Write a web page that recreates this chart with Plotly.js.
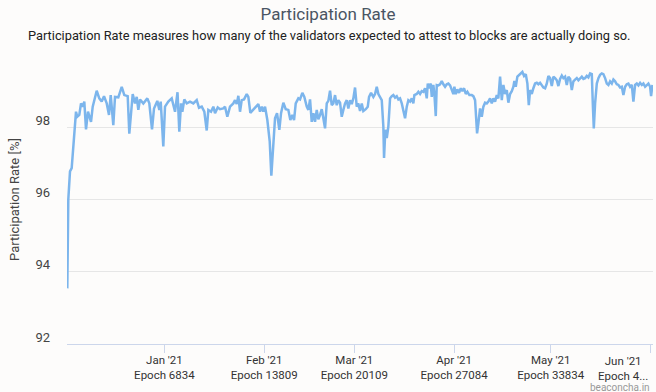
<!DOCTYPE html>
<html>
<head>
<meta charset="utf-8">
<script src="https://cdn.plot.ly/plotly-3.0.1.min.js"></script>
<style>
  html, body { margin: 0; padding: 0; background: #fdfcfb; }
  #chart { width: 656px; height: 392px; }
</style>
</head>
<body>
<div id="chart"></div>
<script>
// ---- data ----
const epochs = [46,116,235,353,654,745,885,1004,1123,1235,1353,1493,1703,1822,2101,2283,2451,2612,2801,2961,3080,3262,3381,3612,3849,4031,4268,4380,4618,4779,4898,5010,5128,5359,5639,5778,5967,6107,6338,6478,6576,6757,6876,7107,7345,7577,7750,7876,
7995,8086,8225,8393,8624,8854,9092,9253,9442,9624,9792,9904,10092,10253,10372,10560,10721,10952,11071,11232,11420,11651,11770,11889,12001,12119,12238,12399,12588,12700,12840,13049,13287,13399,13518,13637,13748,13867,14028,14195,14307,14426,14566,14706,14867,14986,15147,15314,15496,15636,15776,15895,16013,16195,
16314,16475,16614,16782,16894,17013,17132,17244,17363,17481,17593,17712,17831,17943,18062,18181,18292,18411,18530,18642,18761,18880,18991,19110,19229,19341,19460,19579,19691,19810,19929,20040,20159,20278,20390,20509,20628,20739,20907,21047,21138,21278,21438,21557,21676,21788,21907,22025,22137,22186,22277,22376,22487,22606,22725,22837,22955,23074,23186,23305,23424,23536,23655,23774,23885,24004,24123,24235,24305,
24472,24584,24703,24822,24934,25053,25172,25242,25332,25451,25521,25633,25703,25801,25871,25983,26101,26220,26332,26451,26570,26682,26801,26920,27032,27102,27199,27311,27430,27549,27661,27779,27898,28010,28150,28318,28429,28548,28618,28688,28779,28898,29017,29128,29247,29366,29478,29597,29716,29828,29946,30065,30177,30296,30415,30527,30646,30765,30876,30995,31114,31226,31296,31393,31505,31624,31743,31855,31974,32093,32205,32303,32394,32512,32624,
32743,32862,32973,33092,33211,33323,33442,33561,33673,33792,33911,34023,34141,34260,34372,34491,34610,34722,34840,34959,35071,35190,35309,35421,35539,35658,35770,35889,36008,36120,36238,36357,36469,36588,36707,36777,36847,36938,37057,37169,37287,37406,37518,37637,37756,37868,37986,38105,38217,38336,38455,38567,38685,38804,38916,39035,39154,39266,39384,39503,39615,39734,39853,39965,40083,40202,40314,40433,40552,40664,40783,40852,40944];

const participation = [93.54,96.0,96.78,96.87,98.43,98.29,98.34,98.66,98.57,98.71,97.94,98.43,98.15,98.57,99.01,98.80,98.71,98.86,98.66,98.34,98.89,98.06,98.84,98.83,99.12,98.89,98.86,97.82,98.92,98.66,98.84,98.48,98.77,98.66,98.80,98.66,97.94,98.52,98.73,98.48,98.71,97.47,98.57,98.71,98.80,98.43,98.97,97.88,
98.66,98.43,98.77,98.66,98.71,98.66,98.75,98.54,98.57,98.43,97.91,98.48,98.43,98.57,98.39,98.55,98.50,98.52,98.57,98.29,98.57,98.66,98.75,98.64,98.87,98.43,98.75,98.77,98.92,98.84,98.40,98.48,98.57,98.64,98.43,98.57,98.43,98.57,98.20,97.60,96.66,97.56,98.25,98.39,97.93,98.39,98.68,98.50,98.48,98.20,98.34,98.20,98.66,98.80,
98.77,98.95,98.84,98.57,98.48,98.77,98.15,98.39,98.15,98.48,98.22,98.34,98.50,98.25,97.97,98.66,98.73,99.01,98.61,98.66,98.89,98.61,98.75,98.68,98.29,98.48,98.66,98.75,98.52,98.75,98.64,98.80,99.10,98.57,98.66,98.45,98.66,98.45,98.50,98.57,98.84,98.95,98.84,98.92,99.12,98.92,98.84,98.75,98.02,97.15,97.93,97.70,98.02,98.80,98.86,98.89,98.82,98.86,98.77,98.80,98.66,98.43,98.25,98.57,98.75,98.71,98.80,98.66,98.89,
98.92,98.98,98.92,99.0,98.98,99.08,98.80,99.21,99.08,99.21,98.84,99.17,98.92,98.31,99.17,99.16,99.19,99.28,99.19,99.12,99.19,99.21,99.16,99.03,98.92,99.12,98.92,99.05,98.95,99.08,99.0,99.08,98.92,98.98,98.89,98.89,98.86,98.75,98.25,97.83,98.11,98.52,98.29,98.57,98.68,98.66,98.71,98.80,98.66,98.80,98.71,98.89,98.80,99.40,98.75,99.17,98.92,99.03,98.68,98.92,99.0,99.12,99.28,99.12,99.40,99.45,99.49,99.53,99.42,99.47,99.21,98.61,99.03,98.92,99.08,
99.21,99.23,99.19,99.23,99.17,99.10,99.08,99.21,99.42,99.36,99.14,99.40,99.36,99.30,99.14,99.34,99.43,99.36,99.40,99.17,99.40,99.34,99.03,99.27,99.32,99.36,99.30,99.36,99.40,99.34,99.36,99.42,99.38,99.49,99.47,98.66,97.97,98.66,99.21,99.36,99.45,99.49,99.47,99.36,99.21,99.17,99.27,99.21,99.32,99.27,99.19,99.17,99.10,99.12,98.89,99.12,99.19,99.21,99.12,99.17,98.71,99.17,99.21,99.16,99.23,99.17,99.21,99.12,99.17,99.21,99.12,98.86,99.17];

const tickEpochs = [6834, 13809, 20109, 27084, 33834, 40809];
const tickMonths = ["Jan '21", "Feb '21", "Mar '21", "Apr '21", "May '21", "Jun '21"];
const tickEpochLabels = ["Epoch 6834", "Epoch 13809", "Epoch 20109", "Epoch 27084", "Epoch 33834", "Epoch 4..."];
const yTicks = [92, 94, 96, 98, 100];
const yTickLabels = ["92", "94", "96", "98", ""];

const titleText = "Participation Rate";
const subtitleText = "Participation Rate measures how many of the validators expected to attest to blocks are actually doing so.";
const yTitleText = "Participation Rate [%]";
const creditText = "beaconcha.in";

// ---- chart ----
const FONT = "Roboto, 'Noto Sans', sans-serif";
const last = tickEpochs.length - 1;
const ticktext = tickEpochs.map((e, i) => i === last ? "" : tickMonths[i] + "<br>" + tickEpochLabels[i]);

const trace = {
  type: "scatter",
  mode: "lines",
  x: epochs,
  y: participation,
  line: { color: "#7cb5ec", width: 2.5 },
  hoverinfo: "skip"
};

const layout = {
  width: 656,
  height: 392,
  margin: { l: 67, r: 3, t: 55, b: 48 },
  paper_bgcolor: "#fdfcfb",
  plot_bgcolor: "#fdfcfb",
  showlegend: false,
  font: { family: FONT, color: "#333" },
  title: {
    text: titleText,
    font: { family: FONT, size: 17, color: "#4a5563" },
    x: 0.5, xref: "container", xanchor: "center",
    y: 1 - 14 / 392, yref: "container", yanchor: "middle"
  },
  xaxis: {
    range: [25, 40985],
    tickmode: "array",
    tickvals: tickEpochs,
    ticktext: ticktext,
    ticks: "outside",
    ticklen: 8,
    tickcolor: "#ccd6eb",
    tickwidth: 1,
    showline: true,
    linecolor: "#ccd6eb",
    linewidth: 1,
    showgrid: false,
    zeroline: false,
    ticklabelstandoff: -3,
    tickfont: { family: FONT, size: 11.5, color: "#333" },
    fixedrange: true
  },
  yaxis: {
    range: [92, 100],
    tickmode: "array",
    tickvals: yTicks,
    ticktext: yTickLabels,
    ticks: "",
    showgrid: true,
    gridcolor: "#e6e6e6",
    gridwidth: 1,
    zeroline: false,
    showline: false,
    ticklabelshift: -7,
    ticklabelstandoff: 16,
    tickfont: { family: FONT, size: 13, color: "#444" },
    title: { text: yTitleText, font: { family: FONT, size: 13, color: "#444" }, standoff: 12 },
    automargin: false,
    fixedrange: true
  },
  annotations: [
    {
      text: subtitleText,
      xref: "paper", yref: "paper",
      x: (329 - 67) / 586, y: (344 - 35) / 289,
      xanchor: "center", yanchor: "middle",
      showarrow: false,
      font: { family: FONT, size: 12.8, color: "#222" }
    },
    {
      text: tickMonths[last] + "<br>" + tickEpochLabels[last],
      xref: "x", yref: "paper",
      x: tickEpochs[last], y: (344 - 352) / 289,
      xanchor: "right", yanchor: "top",
      align: "center",
      showarrow: false,
      font: { family: FONT, size: 11.5, color: "#333" }
    },
    {
      text: creditText,
      xref: "paper", yref: "paper",
      x: (652 - 67) / 586, y: (344 - 387.5) / 289,
      xanchor: "right", yanchor: "middle",
      showarrow: false,
      font: { family: FONT, size: 10, color: "#999" }
    }
  ]
};

Plotly.newPlot("chart", [trace], layout, { displayModeBar: false, staticPlot: true });
</script>
</body>
</html>
